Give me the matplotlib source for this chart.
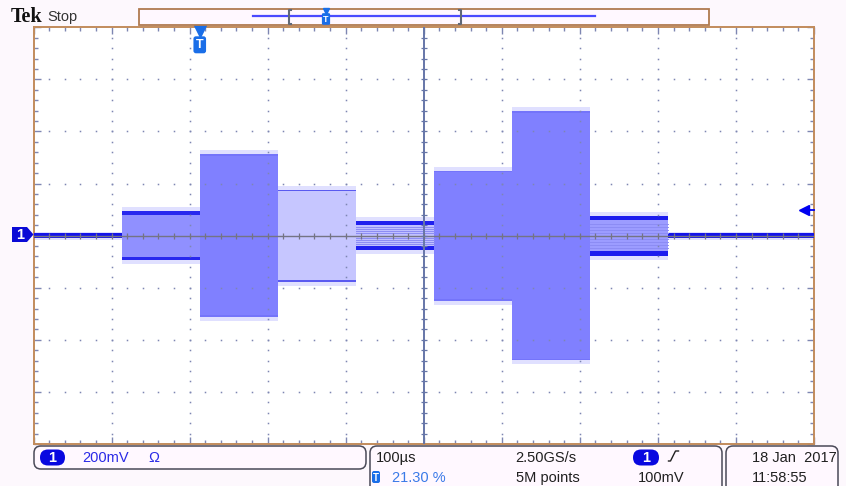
import matplotlib
matplotlib.use("Agg")
import matplotlib.pyplot as plt
import matplotlib.transforms as mtransforms
from matplotlib.patches import FancyBboxPatch, Polygon, Rectangle
import numpy as np

plt.rcParams['font.family'] = ['Liberation Sans', 'DejaVu Sans']

W, H = 846, 486

# scope settings
volts_div = 200        # mV/div
time_div = 100         # us/div
trigger_pct = 21.30
trigger_level = 100    # mV
sample_rate = "2.50GS/s"
record_len = "5M points"
date_str = "18 Jan  2017"
time_str = "11:58:55"

# burst segments: edges in us (relative to trigger), envelope amplitude in mV
seg_edges = [-100, 0, 100, 200, 300, 400, 500, 600]
seg_amp = [94, 312, 177, 56, 250, 478, 77]
noise_amp = 10

# look of each segment
seg_fill = ['#9090ff', '#8080ff', '#c6c6ff', '#c0c0ff', '#8080ff', '#8080ff', '#9c9cff']
seg_edge = ['#2828ee', '#7474fa', '#5a5af0', '#2020ee', '#7474fa', '#7474fa', '#1c1cee']
seg_band = [13, 6, 5, 17, 6, 6, 18]
seg_striped = [False, False, False, True, False, False, True]

x0 = -trigger_pct / 100 * 10 * time_div
x1 = x0 + 10 * time_div
y1 = 4 * volts_div

fig = plt.figure(figsize=(W / 100, H / 100), dpi=100, facecolor='#fdf8fd')
ax = fig.add_axes([33.5 / W, 1 - 444 / H, 780.5 / W, 416.7 / H])
ax.set_xlim(x0, x1)
ax.set_ylim(-y1, y1)
ax.set_facecolor('white')

fringe = 15
fringe_col = '#e0e0ff'

# flat trace before / after the burst
for a, b in [(x0, seg_edges[0]), (seg_edges[-1], x1)]:
    ax.fill_between([a, b], -noise_amp - 5, noise_amp + 5, color=fringe_col, lw=0, zorder=2)
    ax.fill_between([a, b], -noise_amp, noise_amp, color='#1414e8', lw=0, zorder=3)

for i, amp in enumerate(seg_amp):
    a, b = seg_edges[i], seg_edges[i + 1]
    ax.fill_between([a, b], -amp - fringe, amp + fringe, color=fringe_col, lw=0, zorder=2)
    ax.fill_between([a, b], -amp, amp, color=seg_fill[i], lw=0, zorder=3)
    band = seg_band[i]
    ax.fill_between([a, b], amp - band, amp, color=seg_edge[i], lw=0, zorder=4)
    ax.fill_between([a, b], -amp, -amp + band, color=seg_edge[i], lw=0, zorder=4)
    if seg_striped[i]:
        for f in np.linspace(-0.6, 0.6, 9):
            ax.plot([a, b], [f * amp] * 2, color='#8c8cf4', lw=0.7, zorder=4)

# graticule
grid_col = '#7e86b2'
xs_minor = x0 + np.arange(1, 50) * time_div / 5
ys_minor = np.arange(-19, 20) * volts_div / 5
for k in range(1, 10):
    if k == 5:
        continue
    ax.plot(np.full(ys_minor.size, x0 + k * time_div), ys_minor, ls='', marker='s',
            ms=1.1, mew=0, color=grid_col, zorder=5)
for j in range(-3, 4):
    if j == 0:
        continue
    ax.plot(xs_minor, np.full(xs_minor.size, j * volts_div), ls='', marker='s',
            ms=1.1, mew=0, color=grid_col, zorder=5)

xc = x0 + 5 * time_div
ax.axvline(xc, color='#6676a8', lw=1.4, zorder=6)
ax.axhline(0, color='#747484', lw=1.0, zorder=6)
ax.plot(xs_minor, np.zeros(xs_minor.size), ls='', marker='|', ms=5, mew=0.9,
        color='#747484', zorder=6)
ax.plot(np.full(ys_minor.size, xc), ys_minor, ls='', marker='_', ms=5, mew=0.9,
        color='#6676a8', zorder=6)

ax.set_xticks(x0 + np.arange(0, 11) * time_div)
ax.set_xticks(x0 + np.arange(0, 51) * time_div / 5, minor=True)
ax.set_yticks(np.arange(-4, 5) * volts_div)
ax.set_yticks(np.arange(-20, 21) * volts_div / 5, minor=True)
ax.tick_params(which='both', direction='in', top=True, right=True, labelbottom=False,
               labelleft=False, color=grid_col, width=1)
ax.tick_params(which='major', length=5)
ax.tick_params(which='minor', length=3)
for s in ax.spines.values():
    s.set_color('#c28c5c')
    s.set_linewidth(1.4)

# trigger position marker and trigger level arrow
trans = mtransforms.blended_transform_factory(ax.transData, ax.transAxes)
ax.plot(0, 0.992, marker='v', ms=8, color='#1a6ee8', transform=trans, clip_on=False, zorder=10)
ax.text(0, 0.958, 'T', transform=trans, ha='center', va='center', color='white', fontsize=9,
        fontweight='bold', bbox=dict(boxstyle='round,pad=0.2', fc='#1a6ee8', ec='none'), zorder=10)
trans2 = mtransforms.blended_transform_factory(ax.transAxes, ax.transData)
ax.plot([0.984, 1.0], [trigger_level] * 2, color='#0000f0', lw=1.3, transform=trans2,
        clip_on=False, zorder=10)
ax.plot(0.987, trigger_level, marker='<', ms=7, color='#0000f0', transform=trans2,
        clip_on=False, zorder=10)

# overlay in pixel coords for the screen furniture
ov = fig.add_axes([0, 0, 1, 1])
ov.set_xlim(0, W)
ov.set_ylim(H, 0)
ov.axis('off')

ov.text(11, 17, 'Tek', family='Liberation Serif', fontweight='bold', fontsize=14.5,
        va='center', color='#111111')
ov.text(47, 17.5, 'Stop', fontsize=10.5, va='center', color='#333333')

ov.add_patch(Rectangle((139, 9), 570, 16.5, fc='#fff8ff', ec='#b07a50', lw=1.3))
ov.plot([253, 595], [16.5, 16.5], color='#4a4aff', lw=1.6)
ov.plot([291, 289, 289, 291], [10.5, 10.5, 24, 24], color='#606878', lw=1.5)
ov.plot([459, 461, 461, 459], [10.5, 10.5, 24, 24], color='#606878', lw=1.5)
ov.plot(326, 11.5, marker='v', ms=5, color='#1a6ee8')
ov.text(326, 19, 'T', ha='center', va='center', color='white', fontsize=6.5, fontweight='bold',
        bbox=dict(boxstyle='round,pad=0.15', fc='#1a6ee8', ec='none'))

# channel 1 ground marker
ov.add_patch(Polygon([(12, 227), (27, 227), (33.5, 234.5), (27, 242), (12, 242)],
                     closed=True, fc='#0a0ad6', ec='none'))
ov.text(20.5, 235, '1', ha='center', va='center', color='white', fontsize=10.5, fontweight='bold')

# status bar boxes
box_kw = dict(boxstyle='round,pad=0,rounding_size=7', fc='#fff8ff', ec='#4a4a58', lw=1.1)
ov.add_patch(FancyBboxPatch((34, 446), 332, 23, **box_kw))
ov.add_patch(FancyBboxPatch((370, 446), 352, 60, **box_kw))
ov.add_patch(FancyBboxPatch((726, 446), 112, 60, **box_kw))

pill_kw = dict(boxstyle='round,pad=0,rounding_size=8', fc='#0808e0', ec='none')
ov.add_patch(FancyBboxPatch((40, 449.5), 25, 16, **pill_kw))
ov.text(52.5, 458, '1', ha='center', va='center', color='white', fontsize=10.5, fontweight='bold')
ov.text(82, 458, f'{volts_div}mV', va='center', color='#2a2ae6', fontsize=10.5)
ov.text(154, 458, 'Ω', ha='center', va='center', color='#2a2ae6', fontsize=10.5)

ov.text(375.5, 458, f'{time_div}µs', va='center', color='#202020', fontsize=10.5)
ov.add_patch(FancyBboxPatch((372, 471), 8, 12, boxstyle='round,pad=0,rounding_size=2',
                            fc='#1a6ee8', ec='none'))
ov.text(376, 477.5, 'T', ha='center', va='center', color='white', fontsize=7, fontweight='bold')
ov.text(391.5, 477.5, f'{trigger_pct:.2f} %', va='center', color='#3a7ae8', fontsize=10.5)
ov.text(515.5, 458, sample_rate, va='center', color='#202020', fontsize=10.5)
ov.text(515.5, 477.5, record_len, va='center', color='#202020', fontsize=10.5)

ov.add_patch(FancyBboxPatch((633, 449.5), 26, 16, **pill_kw))
ov.text(646, 458, '1', ha='center', va='center', color='white', fontsize=10.5, fontweight='bold')
ov.plot([668.5, 670.5, 675.5, 678.5], [461, 461, 451, 451], color='#202020', lw=1)
ov.text(638, 477.5, f'{trigger_level}mV', va='center', color='#202020', fontsize=10.5)

ov.text(752, 458, date_str, va='center', color='#202020', fontsize=10.5)
ov.text(752, 477.5, time_str, va='center', color='#202020', fontsize=10.5)

fig.savefig('out.png', dpi=100, facecolor=fig.get_facecolor())
